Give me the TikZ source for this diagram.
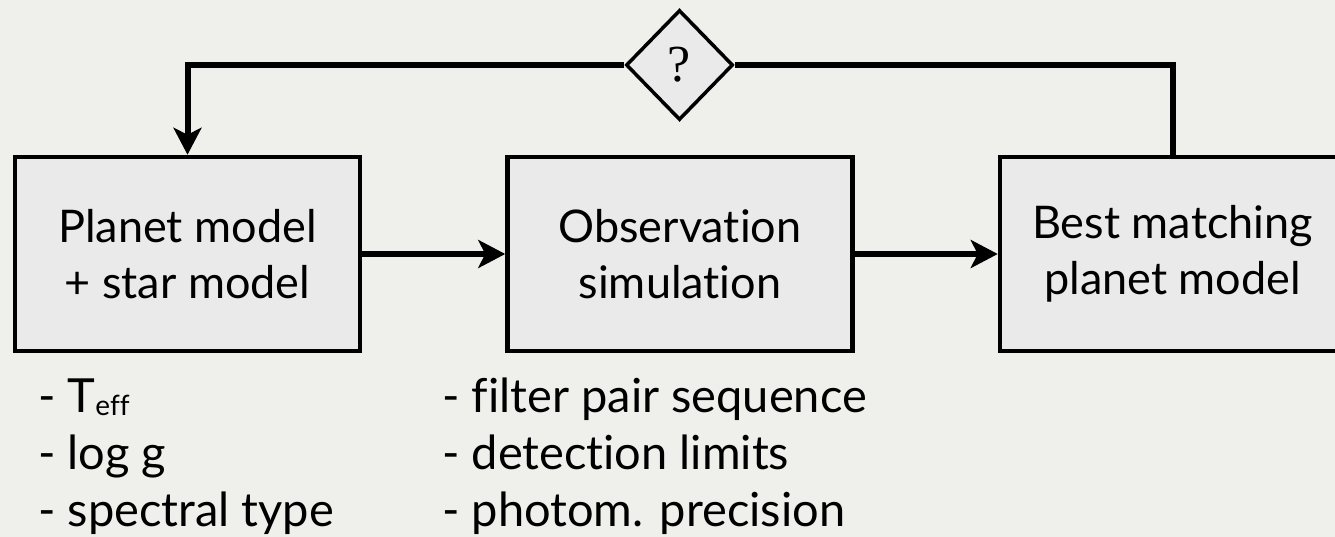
\documentclass[tikz,border=0pt]{standalone}
\usepackage{fontspec}
\setmainfont{Lato}[Ligatures=NoCommon]
\newfontfamily\qfont{Liberation Serif}
\usetikzlibrary{shapes.geometric,arrows.meta}
\definecolor{bgcol}{RGB}{239,239,235}
\definecolor{boxcol}{RGB}{234,234,234}
\tikzset{
  procbox/.style={draw=black, fill=boxcol, line width=4.5pt, minimum width=345pt, minimum height=194pt, inner sep=0pt, align=center, font=\fontsize{45}{56}\selectfont},
  decbox/.style={diamond, draw=black, fill=boxcol, line width=3.5pt, minimum width=107pt, minimum height=110pt, inner sep=0pt, font=\qfont\fontsize{52}{52}\selectfont},
  flow/.style={line width=6pt, -{Stealth[length=27pt, width=28pt, inset=7pt]}},
  plainflow/.style={line width=6pt},
  listtext/.style={anchor=base west, align=left, inner sep=0pt, font=\fontsize{47}{57}\selectfont}
}
\begin{document}
\begin{tikzpicture}[x=1pt,y=-1pt]
\useasboundingbox (0,0) rectangle (1335,537);
\fill[bgcol] (0,0) rectangle (1335,537);
\clip (0,0) rectangle (1335,537);
\node[procbox] (L) at (187.5,254) {Planet model\\+ star model};
\node[procbox] (M) at (680,254) {Observation\\simulation};
\node[procbox] (R) at (1172.5,254) {Best matching\\planet model};
\node[decbox] (Q) at (679.5,65) {?};
\draw[flow] (L.east) -- (M.west);
\draw[flow] (M.east) -- (R.west);
\draw[plainflow] (R.north) |- (Q.east);
\draw[flow] (Q.west) -| (L.north);
\node[listtext] (LL) at (38,526) {- T\raisebox{-3pt}{\fontsize{28}{28}\selectfont eff}\\- log g\\- spectral type};
\node[listtext] (ML) at (442,526) {- filter pair sequence\\- detection limits\\- photom. precision};
\end{tikzpicture}
\end{document}
